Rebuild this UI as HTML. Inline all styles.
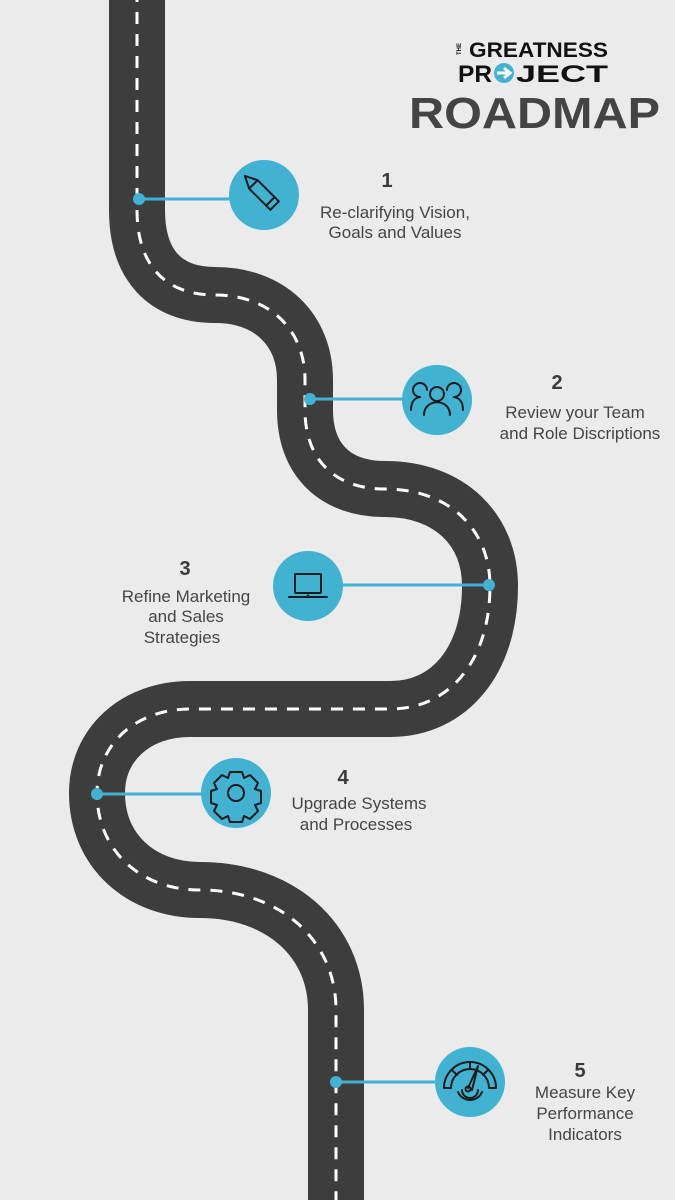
<!DOCTYPE html>
<html><head><meta charset="utf-8"><style>
html,body{margin:0;padding:0;background:#ebebeb;}
svg{display:block}
text{font-family:"Liberation Sans",sans-serif;}
.t{fill:#454545;font-size:17px;text-anchor:middle;}
.n{fill:#3a3a3a;font-size:20px;font-weight:bold;text-anchor:middle;}
.ic{fill:none;stroke:#1c1c1c;stroke-width:2;stroke-linecap:round;stroke-linejoin:round}
</style></head><body>
<svg width="675" height="1200" viewBox="0 0 675 1200" xmlns="http://www.w3.org/2000/svg">
<rect width="675" height="1200" fill="#ebebeb"/>
<path d="M137,-10 V210 C137,265 165,295 215,295 C270,295 305,330 305,380 V410 C305,460 335,489 385,489 C450,489 490,530 490,586 C490,660 450,709 390,709 H190 C135,709 97,745 97,793 C97,850 140,890 200,890 C280,890 336,940 336,1010 V1210" fill="none" stroke="#3d3d3d" stroke-width="56"/>
<path d="M137,-10 V210 C137,265 165,295 215,295 C270,295 305,330 305,380 V410 C305,460 335,489 385,489 C450,489 490,530 490,586 C490,660 450,709 390,709 H190 C135,709 97,745 97,793 C97,850 140,890 200,890 C280,890 336,940 336,1010 V1210" fill="none" stroke="#fff" stroke-width="3" stroke-dasharray="12 10"/>

<g stroke="#42b2d3" stroke-width="3">
<line x1="139" y1="199" x2="240" y2="199"/>
<line x1="310" y1="399" x2="410" y2="399"/>
<line x1="330" y1="585" x2="489" y2="585"/>
<line x1="97" y1="794" x2="210" y2="794"/>
<line x1="336" y1="1082" x2="445" y2="1082"/>
</g>
<g fill="#42b2d3">
<circle cx="139" cy="199" r="6"/><circle cx="310" cy="399" r="6"/><circle cx="489" cy="585" r="6"/><circle cx="97" cy="794" r="6"/><circle cx="336" cy="1082" r="6"/>
<circle cx="264" cy="195" r="35"/><circle cx="437" cy="400" r="35"/><circle cx="308" cy="586" r="35"/><circle cx="236" cy="793" r="35"/><circle cx="470" cy="1082" r="35"/>
</g>
<!-- pencil -->
<g class="ic" transform="rotate(-45 264 195)">
<rect x="258" y="180" width="12" height="30"/><line x1="258" y1="204" x2="270" y2="204"/>
<path d="M258,180 L264,168 L270,180"/>
</g>
<!-- team -->
<g class="ic">
<circle cx="437" cy="394" r="7"/><path d="M424,415 C424,398 450,398 450,415"/>
<path d="M427,390 A7,7 0 1 0 420,397"/><path d="M411,410 C411,401 415,398 420,397"/>
<path d="M447,390 A7,7 0 1 1 454,397"/><path d="M463,410 C463,401 459,398 454,397"/>
</g>
<!-- laptop -->
<g class="ic">
<rect x="295" y="574" width="26" height="19" rx="1"/><path d="M289,597 H327"/><circle cx="308" cy="596" r="0.6"/>
</g>
<!-- gear -->
<g class="ic">
<path d="M230,772 h12 l2,6 l6,-3 l8,8 l-3,6 l6,2 v12 l-6,2 l3,6 l-8,8 l-6,-3 l-2,6 h-12 l-2,-6 l-6,3 l-8,-8 l3,-6 l-6,-2 v-12 l6,-2 l-3,-6 l8,-8 l6,3 z"/>
<circle cx="236" cy="793" r="8"/>
</g>
<!-- gauge -->
<g class="ic">
<path d="M444,1088 A26,26 0 0 1 496,1088 H489 A19,19 0 0 0 451,1088 Z"/>
<line x1="470" y1="1062" x2="470" y2="1069"/><line x1="452" y1="1070" x2="457" y2="1075"/><line x1="488" y1="1070" x2="483" y2="1075"/>
<path d="M468,1088 L478,1066 L472,1090"/><circle cx="468" cy="1089" r="2.5"/>
<path d="M458,1092 A13,13 0 0 0 482,1092"/><path d="M462,1090 A8,8 0 0 0 478,1090"/>
</g>

<!-- logo -->
<text x="461" y="55" font-size="6" font-weight="bold" fill="#111" transform="rotate(-90 461 55)" text-anchor="start">THE</text>
<text x="469" y="57" font-size="21" font-weight="bold" fill="#111" textLength="139" lengthAdjust="spacingAndGlyphs">GREATNESS</text>
<text x="458" y="82" font-size="24" font-weight="bold" fill="#111" textLength="34" lengthAdjust="spacingAndGlyphs">PR</text>
<circle cx="504" cy="73" r="10" fill="#42b2d3"/>
<path d="M497,73 H509 M504,68 L510,73 L504,78" stroke="#fff" stroke-width="3" fill="none"/>
<text x="516" y="82" font-size="24" font-weight="bold" fill="#111" textLength="92" lengthAdjust="spacingAndGlyphs">JECT</text>
<text x="409" y="128" font-size="44" font-weight="bold" fill="#444" textLength="251" lengthAdjust="spacingAndGlyphs">ROADMAP</text>

<text class="n" x="387" y="187">1</text>
<text class="t" x="395" y="218">Re-clarifying Vision,</text>
<text class="t" x="395" y="238">Goals and Values</text>

<text class="n" x="557" y="389">2</text>
<text class="t" x="575" y="418">Review your Team</text>
<text class="t" x="580" y="439">and Role Discriptions</text>

<text class="n" x="185" y="575">3</text>
<text class="t" x="186" y="602">Refine Marketing</text>
<text class="t" x="186" y="622">and Sales</text>
<text class="t" x="182" y="643">Strategies</text>

<text class="n" x="343" y="784">4</text>
<text class="t" x="359" y="809">Upgrade Systems</text>
<text class="t" x="356" y="830">and Processes</text>

<text class="n" x="580" y="1077">5</text>
<text class="t" x="585" y="1098">Measure Key</text>
<text class="t" x="585" y="1119">Performance</text>
<text class="t" x="585" y="1140">Indicators</text>
</svg>
</body></html>
